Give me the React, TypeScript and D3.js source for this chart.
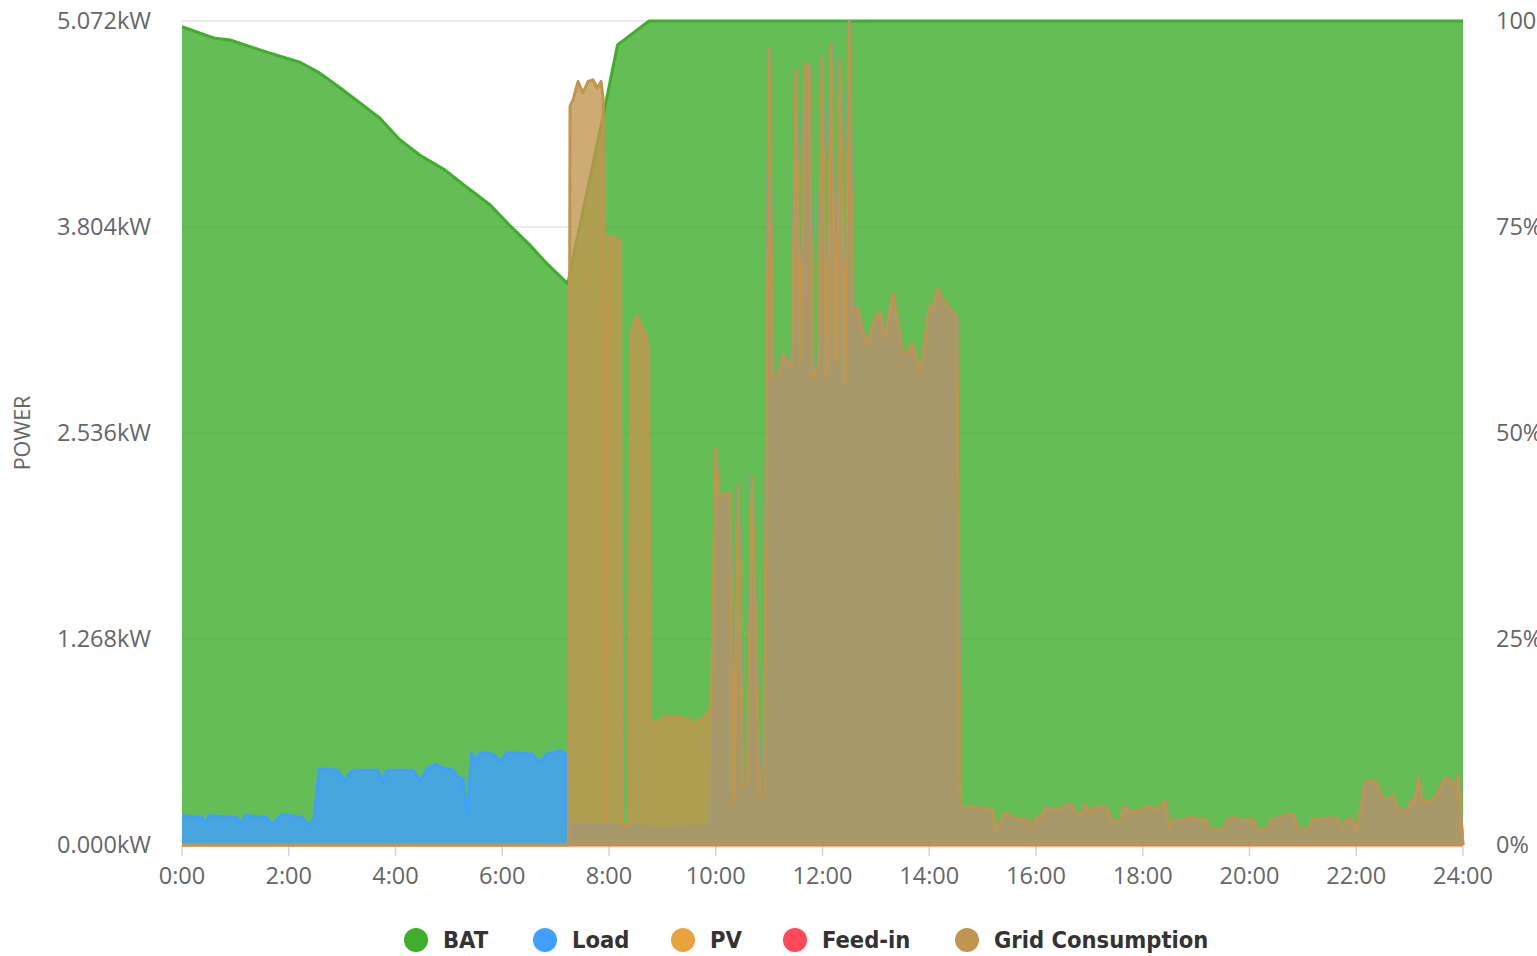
import { useEffect, useRef } from "react";
import * as d3 from "d3";

// hour of day, value
const batSoc: [number, number][] = [
  [0, 99.3], [0.62, 97.9], [0.9, 97.7], [1.46, 96.5], [1.65, 96.1], [2.21, 95.0], [2.55, 93.8],
  [2.96, 91.9], [3.71, 88.2], [4.08, 85.6], [4.46, 83.7], [4.93, 81.9], [5.3, 80.0], [5.77, 77.7],
  [6.14, 75.2], [6.52, 72.8], [6.8, 70.8], [7.23, 68.1], [7.3, 70.5], [7.9, 88.8],
  [8.16, 97.1], [8.75, 100], [24, 100],
];

const load: [number, number][] = [
  [0, 0.18], [0.37, 0.17], [0.43, 0.13], [0.51, 0.18], [1.03, 0.17], [1.1, 0.12],
  [1.18, 0.18], [1.59, 0.17], [1.68, 0.12], [1.87, 0.19], [2.25, 0.17], [2.38, 0.12],
  [2.47, 0.15], [2.57, 0.47], [2.92, 0.46], [3.04, 0.39], [3.18, 0.46], [3.67, 0.46],
  [3.76, 0.39], [3.84, 0.46], [4.33, 0.46], [4.46, 0.39], [4.59, 0.47], [4.76, 0.5],
  [4.83, 0.48], [5.08, 0.46], [5.17, 0.42], [5.26, 0.41], [5.34, 0.19], [5.43, 0.57],
  [5.49, 0.51], [5.58, 0.57], [5.83, 0.56], [5.96, 0.51], [6.09, 0.57], [6.56, 0.56],
  [6.69, 0.51], [6.84, 0.56], [7.08, 0.58], [7.19, 0.56], [7.22, 0.12], [8.5, 0.12],
  [9.0, 0.1], [9.5, 0.11], [9.92, 0.12], [10.0, 2.44], [10.06, 2.14], [10.23, 2.17],
  [10.27, 2.16], [10.34, 0.26], [10.42, 2.22], [10.51, 0.36], [10.59, 0.38], [10.68, 2.27],
  [10.83, 0.29], [10.9, 0.28], [10.96, 2.9], [11.0, 4.9], [11.07, 2.89], [11.17, 2.88],
  [11.26, 3.02], [11.43, 2.94], [11.5, 4.77], [11.59, 2.97], [11.67, 4.81], [11.75, 4.79],
  [11.82, 2.87], [11.92, 2.95], [11.99, 4.85], [12.08, 2.87], [12.16, 4.93], [12.25, 2.97],
  [12.33, 4.84], [12.42, 2.84], [12.5, 5.07], [12.57, 3.27], [12.65, 3.31], [12.83, 3.08],
  [13.0, 3.26], [13.08, 3.28], [13.17, 3.12], [13.32, 3.4], [13.5, 3.04], [13.58, 3.02],
  [13.68, 3.09], [13.84, 2.91], [14.0, 3.32], [14.07, 3.29], [14.16, 3.43], [14.25, 3.36],
  [14.52, 3.25], [14.58, 0.24], [15.18, 0.22], [15.25, 0.1], [15.42, 0.2], [15.61, 0.16],
  [15.85, 0.16], [15.92, 0.1], [16.02, 0.17], [16.07, 0.16], [16.17, 0.23], [16.45, 0.22],
  [16.6, 0.25], [16.67, 0.25], [16.76, 0.19], [16.84, 0.19], [16.92, 0.25], [17.01, 0.2],
  [17.1, 0.23], [17.33, 0.23], [17.42, 0.15], [17.57, 0.15], [17.65, 0.24], [17.76, 0.2],
  [18.0, 0.22], [18.15, 0.24], [18.25, 0.21], [18.42, 0.27], [18.5, 0.1], [18.59, 0.16],
  [18.66, 0.15], [18.89, 0.17], [19.01, 0.16], [19.17, 0.16], [19.26, 0.1], [19.5, 0.1],
  [19.6, 0.16], [19.69, 0.17], [19.88, 0.15], [20.04, 0.16], [20.16, 0.1], [20.32, 0.1],
  [20.42, 0.16], [20.61, 0.17], [20.72, 0.19], [20.83, 0.19], [20.91, 0.1], [21.1, 0.1],
  [21.18, 0.16], [21.36, 0.16], [21.51, 0.17], [21.66, 0.16], [21.75, 0.1], [21.83, 0.16],
  [21.91, 0.16], [22.01, 0.1], [22.08, 0.22], [22.16, 0.38], [22.26, 0.4], [22.39, 0.38],
  [22.5, 0.29], [22.6, 0.28], [22.69, 0.31], [22.77, 0.23], [22.88, 0.21], [22.95, 0.21],
  [23.02, 0.27], [23.1, 0.27], [23.16, 0.42], [23.24, 0.27], [23.42, 0.27], [23.51, 0.31],
  [23.66, 0.41], [23.74, 0.41], [23.84, 0.36], [23.91, 0.43], [24.0, 0],
];

const pv: [number, number][] = [[0, 0], [24, 0]];
const feedIn: [number, number][] = [[0, 0], [24, 0]];

const grid: [number, number][] = [
  [0, 0], [7.22, 0], [7.24, 0.02], [7.27, 4.55], [7.33, 4.59], [7.42, 4.7], [7.51, 4.63],
  [7.61, 4.7], [7.7, 4.71], [7.78, 4.66], [7.85, 4.7], [7.89, 4.6], [7.92, 0.15],
  [7.94, 0.15], [7.98, 3.75], [8.11, 3.74], [8.21, 3.71], [8.24, 0.12], [8.37, 0.12],
  [8.41, 3.15], [8.52, 3.26], [8.69, 3.13], [8.74, 3.05], [8.77, 0.78], [8.86, 0.73],
  [8.99, 0.78], [9.27, 0.79], [9.52, 0.77], [9.59, 0.73], [9.69, 0.78], [9.76, 0.76],
  [9.85, 0.82], [9.92, 0.83], [10.0, 2.44], [10.06, 2.14], [10.23, 2.17],
  [10.27, 2.16], [10.34, 0.26], [10.42, 2.22], [10.51, 0.36], [10.59, 0.38], [10.68, 2.27],
  [10.83, 0.29], [10.9, 0.28], [10.96, 2.9], [11.0, 4.9], [11.07, 2.89], [11.17, 2.88],
  [11.26, 3.02], [11.43, 2.94], [11.5, 4.77], [11.59, 2.97], [11.67, 4.81], [11.75, 4.79],
  [11.82, 2.87], [11.92, 2.95], [11.99, 4.85], [12.08, 2.87], [12.16, 4.93], [12.25, 2.97],
  [12.33, 4.84], [12.42, 2.84], [12.5, 5.07], [12.57, 3.27], [12.65, 3.31], [12.83, 3.08],
  [13.0, 3.26], [13.08, 3.28], [13.17, 3.12], [13.32, 3.4], [13.5, 3.04], [13.58, 3.02],
  [13.68, 3.09], [13.84, 2.91], [14.0, 3.32], [14.07, 3.29], [14.16, 3.43], [14.25, 3.36],
  [14.52, 3.25], [14.58, 0.24], [15.18, 0.22], [15.25, 0.1], [15.42, 0.2], [15.61, 0.16],
  [15.85, 0.16], [15.92, 0.1], [16.02, 0.17], [16.07, 0.16], [16.17, 0.23], [16.45, 0.22],
  [16.6, 0.25], [16.67, 0.25], [16.76, 0.19], [16.84, 0.19], [16.92, 0.25], [17.01, 0.2],
  [17.1, 0.23], [17.33, 0.23], [17.42, 0.15], [17.57, 0.15], [17.65, 0.24], [17.76, 0.2],
  [18.0, 0.22], [18.15, 0.24], [18.25, 0.21], [18.42, 0.27], [18.5, 0.1], [18.59, 0.16],
  [18.66, 0.15], [18.89, 0.17], [19.01, 0.16], [19.17, 0.16], [19.26, 0.1], [19.5, 0.1],
  [19.6, 0.16], [19.69, 0.17], [19.88, 0.15], [20.04, 0.16], [20.16, 0.1], [20.32, 0.1],
  [20.42, 0.16], [20.61, 0.17], [20.72, 0.19], [20.83, 0.19], [20.91, 0.1], [21.1, 0.1],
  [21.18, 0.16], [21.36, 0.16], [21.51, 0.17], [21.66, 0.16], [21.75, 0.1], [21.83, 0.16],
  [21.91, 0.16], [22.01, 0.1], [22.08, 0.22], [22.16, 0.38], [22.26, 0.4], [22.39, 0.38],
  [22.5, 0.29], [22.6, 0.28], [22.69, 0.31], [22.77, 0.23], [22.88, 0.21], [22.95, 0.21],
  [23.02, 0.27], [23.1, 0.27], [23.16, 0.42], [23.24, 0.27], [23.42, 0.27], [23.51, 0.31],
  [23.66, 0.41], [23.74, 0.41], [23.84, 0.36], [23.91, 0.43], [24.0, 0],
];

const powerTicks = [0, 1.268, 2.536, 3.804, 5.072];
const socTicks = [0, 25, 50, 75, 100];
const hourTicks = [0, 2, 4, 6, 8, 10, 12, 14, 16, 18, 20, 22, 24];
const seriesNames = ["BAT", "Load", "PV", "Feed-in", "Grid Consumption"];
const seriesColors = ["#3fae2a", "#40a0ff", "#e8a33d", "#ff4858", "#c0964f"];

function App() {
  const svgRef = useRef<SVGSVGElement>(null);
  const width = 1537, height = 956;
  const margin = { top: 21, right: 74, bottom: 111, left: 182 };
  const font = "'Open Sans', sans-serif";

  useEffect(() => {
    const svg = d3.select(svgRef.current);
    svg.selectAll("*").remove();

    const x = d3.scaleLinear().domain([0, 24]).range([margin.left, width - margin.right]);
    const yPow = d3.scaleLinear().domain([0, 5.072]).range([height - margin.bottom, margin.top]);
    const ySoc = d3.scaleLinear().domain([0, 100]).range([height - margin.bottom, margin.top]);

    // grid lines
    svg.append("g")
      .selectAll("line")
      .data(powerTicks)
      .enter().append("line")
      .attr("x1", margin.left).attr("x2", width - margin.right)
      .attr("y1", d => yPow(d)).attr("y2", d => yPow(d))
      .attr("stroke", "#e6e6e6").attr("stroke-width", 1.5);

    // x ticks
    svg.append("g")
      .selectAll("line")
      .data(hourTicks)
      .enter().append("line")
      .attr("x1", d => x(d)).attr("x2", d => x(d))
      .attr("y1", yPow(0)).attr("y2", yPow(0) + 11)
      .attr("stroke", "#ccd6eb").attr("stroke-width", 1.5);
    svg.append("line")
      .attr("x1", margin.left).attr("x2", width - margin.right)
      .attr("y1", yPow(0) + 0.5).attr("y2", yPow(0) + 0.5)
      .attr("stroke", "#ccd6eb");

    const drawSeries = (data: [number, number][], y: d3.ScaleLinear<number, number>, color: string, lineOpacity = 1) => {
      const area = d3.area<[number, number]>()
        .x(d => x(d[0])).y0(y(0)).y1(d => y(d[1]));
      const line = d3.line<[number, number]>()
        .x(d => x(d[0])).y(d => y(d[1]));
      svg.append("path").datum(data)
        .attr("d", area).attr("fill", color).attr("fill-opacity", 0.8);
      svg.append("path").datum(data)
        .attr("d", line).attr("fill", "none").attr("stroke", color)
        .attr("stroke-width", 3).attr("stroke-opacity", lineOpacity)
        .attr("stroke-linejoin", "round");
    };

    drawSeries(batSoc, ySoc, seriesColors[0]);
    drawSeries(load, yPow, seriesColors[1]);
    drawSeries(pv, yPow, seriesColors[2]);
    drawSeries(feedIn, yPow, seriesColors[3], 0.5);
    drawSeries(grid, yPow, seriesColors[4]);

    // left axis labels
    svg.append("g")
      .selectAll("text")
      .data(powerTicks)
      .enter().append("text")
      .attr("x", 151).attr("y", d => yPow(d)).attr("dy", "0.35em")
      .attr("text-anchor", "end")
      .style("font-family", font).style("font-size", "23.5px").attr("fill", "#666")
      .text(d => d3.format(".3f")(d) + "kW");

    // right axis labels
    svg.append("g")
      .selectAll("text")
      .data(socTicks)
      .enter().append("text")
      .attr("x", 1496).attr("y", d => ySoc(d)).attr("dy", "0.35em")
      .attr("text-anchor", "start")
      .style("font-family", font).style("font-size", "23.5px").attr("fill", "#666")
      .text(d => d + "%");

    // x labels
    svg.append("g")
      .selectAll("text")
      .data(hourTicks)
      .enter().append("text")
      .attr("x", d => x(d)).attr("y", yPow(0) + 31).attr("dy", "0.35em")
      .attr("text-anchor", "middle")
      .style("font-family", font).style("font-size", "23.5px").attr("fill", "#666")
      .text(d => d + ":00");

    svg.append("text")
      .attr("transform", `translate(30, ${(yPow(0) + yPow(5.072)) / 2}) rotate(-90)`)
      .attr("text-anchor", "middle")
      .style("font-family", font).style("font-size", "21.5px").attr("fill", "#666")
      .text("POWER");

    // legend
    const legendX = [416, 545, 683, 795, 967];
    const legend = svg.append("g");
    seriesNames.forEach((name, i) => {
      legend.append("circle")
        .attr("cx", legendX[i]).attr("cy", 940).attr("r", 12)
        .attr("fill", seriesColors[i]);
      legend.append("text")
        .attr("x", legendX[i] + 27).attr("y", 940).attr("dy", "0.36em")
        .style("font-family", "'DejaVu Sans Condensed', 'DejaVu Sans', sans-serif")
        .style("font-weight", "bold").style("font-size", "23.5px").attr("fill", "#333")
        .text(name);
    });
  }, []);

  return (
    <svg
      ref={svgRef}
      width={width}
      height={height}
      style={{ position: "absolute", left: 0, top: 0, display: "block", background: "#fff" }}
    ></svg>
  );
}

export default App;
